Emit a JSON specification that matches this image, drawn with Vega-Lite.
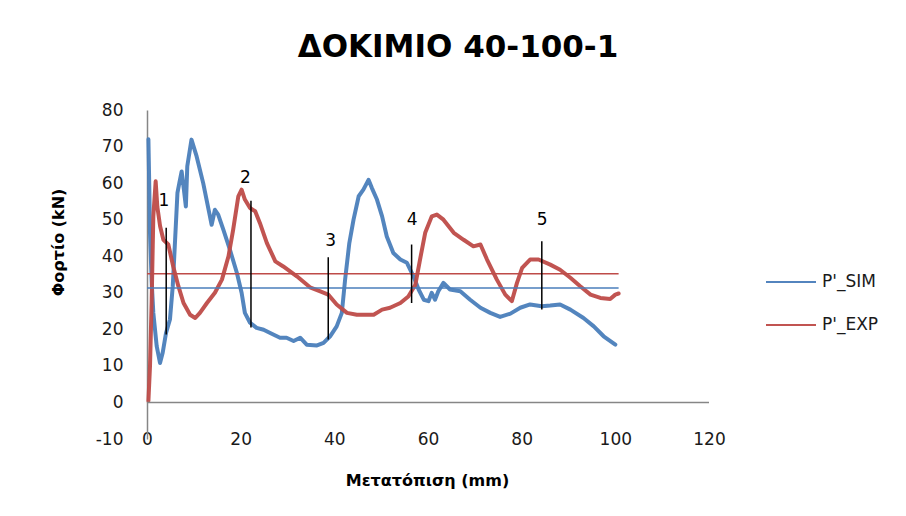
{
  "$schema": "https://vega.github.io/schema/vega-lite/v6.json",
  "autosize": "none",
  "width": 562,
  "height": 329,
  "padding": {"left": 147, "top": 110, "right": 197, "bottom": 77},
  "background": "white",
  "config": {
    "font": "DejaVu Sans",
    "view": {"stroke": null},
    "axis": {"labelFont": "DejaVu Sans", "titleFont": "DejaVu Sans"},
    "legend": {"labelFont": "DejaVu Sans"}
  },
  "title": {
    "text": "ΔΟΚΙΜΙΟ 40-100-1",
    "font": "DejaVu Sans",
    "fontSize": 31,
    "fontWeight": "bold",
    "color": "#000000",
    "anchor": "middle",
    "frame": "group",
    "dx": 30,
    "baseline": "alphabetic",
    "offset": 13
  },
  "datasets": {
    "curves": [
      {"s":"P'_SIM","i":1,"x":0.3,"y":72},{"s":"P'_SIM","i":2,"x":0.5,"y":58},{"s":"P'_SIM","i":3,"x":0.64,"y":46.4},{"s":"P'_SIM","i":4,"x":1.0,"y":33},{"s":"P'_SIM","i":5,"x":1.35,"y":24.5},{"s":"P'_SIM","i":6,"x":2.07,"y":15.4},{"s":"P'_SIM","i":7,"x":2.78,"y":10.8},{"s":"P'_SIM","i":8,"x":3.35,"y":13.6},{"s":"P'_SIM","i":9,"x":4.06,"y":19.0},{"s":"P'_SIM","i":10,"x":4.9,"y":22.7},{"s":"P'_SIM","i":11,"x":5.5,"y":31.8},{"s":"P'_SIM","i":12,"x":6.0,"y":44.5},{"s":"P'_SIM","i":13,"x":6.5,"y":57.3},{"s":"P'_SIM","i":14,"x":6.9,"y":60.0},{"s":"P'_SIM","i":15,"x":7.4,"y":63.2},{"s":"P'_SIM","i":16,"x":7.9,"y":58},{"s":"P'_SIM","i":17,"x":8.3,"y":53.6},{"s":"P'_SIM","i":18,"x":8.6,"y":64.6},{"s":"P'_SIM","i":19,"x":9.5,"y":71.9},{"s":"P'_SIM","i":20,"x":10.6,"y":67.3},{"s":"P'_SIM","i":21,"x":12.0,"y":60.0},{"s":"P'_SIM","i":22,"x":13.3,"y":51.8},{"s":"P'_SIM","i":23,"x":13.8,"y":48.6},{"s":"P'_SIM","i":24,"x":14.5,"y":52.7},{"s":"P'_SIM","i":25,"x":15.2,"y":51.4},{"s":"P'_SIM","i":26,"x":16.3,"y":47.3},{"s":"P'_SIM","i":27,"x":17.7,"y":41.8},{"s":"P'_SIM","i":28,"x":19.2,"y":35.4},{"s":"P'_SIM","i":29,"x":20.2,"y":30.0},{"s":"P'_SIM","i":30,"x":20.9,"y":24.5},{"s":"P'_SIM","i":31,"x":22.0,"y":21.8},{"s":"P'_SIM","i":32,"x":23.4,"y":20.4},{"s":"P'_SIM","i":33,"x":24.9,"y":19.9},{"s":"P'_SIM","i":34,"x":26.3,"y":19.0},{"s":"P'_SIM","i":35,"x":28.4,"y":17.7},{"s":"P'_SIM","i":36,"x":29.8,"y":17.7},{"s":"P'_SIM","i":37,"x":31.3,"y":16.8},{"s":"P'_SIM","i":38,"x":32.7,"y":17.7},{"s":"P'_SIM","i":39,"x":34.1,"y":15.8},{"s":"P'_SIM","i":40,"x":36.3,"y":15.6},{"s":"P'_SIM","i":41,"x":37.7,"y":16.3},{"s":"P'_SIM","i":42,"x":39.1,"y":18.1},{"s":"P'_SIM","i":43,"x":40.5,"y":20.8},{"s":"P'_SIM","i":44,"x":41.6,"y":24.5},{"s":"P'_SIM","i":45,"x":42.3,"y":33.6},{"s":"P'_SIM","i":46,"x":43.2,"y":43.6},{"s":"P'_SIM","i":47,"x":44.1,"y":50.0},{"s":"P'_SIM","i":48,"x":45.2,"y":56.4},{"s":"P'_SIM","i":49,"x":46.2,"y":58.2},{"s":"P'_SIM","i":50,"x":47.3,"y":60.9},{"s":"P'_SIM","i":51,"x":48.0,"y":58.7},{"s":"P'_SIM","i":52,"x":49.1,"y":55.5},{"s":"P'_SIM","i":53,"x":50.2,"y":50.9},{"s":"P'_SIM","i":54,"x":51.2,"y":45.4},{"s":"P'_SIM","i":55,"x":52.6,"y":40.9},{"s":"P'_SIM","i":56,"x":54.1,"y":39.1},{"s":"P'_SIM","i":57,"x":55.5,"y":38.2},{"s":"P'_SIM","i":58,"x":56.9,"y":34.5},{"s":"P'_SIM","i":59,"x":58.0,"y":30.9},{"s":"P'_SIM","i":60,"x":59.1,"y":28.1},{"s":"P'_SIM","i":61,"x":60.1,"y":27.7},{"s":"P'_SIM","i":62,"x":60.8,"y":30.0},{"s":"P'_SIM","i":63,"x":61.5,"y":28.1},{"s":"P'_SIM","i":64,"x":62.2,"y":30.4},{"s":"P'_SIM","i":65,"x":63.3,"y":32.7},{"s":"P'_SIM","i":66,"x":64.7,"y":30.9},{"s":"P'_SIM","i":67,"x":66.9,"y":30.4},{"s":"P'_SIM","i":68,"x":69.0,"y":28.1},{"s":"P'_SIM","i":69,"x":71.2,"y":25.9},{"s":"P'_SIM","i":70,"x":73.3,"y":24.5},{"s":"P'_SIM","i":71,"x":75.4,"y":23.4},{"s":"P'_SIM","i":72,"x":77.6,"y":24.3},{"s":"P'_SIM","i":73,"x":79.7,"y":25.9},{"s":"P'_SIM","i":74,"x":81.8,"y":26.8},{"s":"P'_SIM","i":75,"x":84.3,"y":26.3},{"s":"P'_SIM","i":76,"x":86.1,"y":26.5},{"s":"P'_SIM","i":77,"x":88.2,"y":26.8},{"s":"P'_SIM","i":78,"x":90.4,"y":25.4},{"s":"P'_SIM","i":79,"x":93.2,"y":23.1},{"s":"P'_SIM","i":80,"x":95.4,"y":20.8},{"s":"P'_SIM","i":81,"x":97.5,"y":18.1},{"s":"P'_SIM","i":82,"x":100.0,"y":15.8},
      {"s":"P'_EXP","i":1,"x":0.3,"y":0.4},{"s":"P'_EXP","i":2,"x":0.64,"y":9.9},{"s":"P'_EXP","i":3,"x":1.0,"y":28.1},{"s":"P'_EXP","i":4,"x":1.35,"y":50.9},{"s":"P'_EXP","i":5,"x":1.85,"y":60.5},{"s":"P'_EXP","i":6,"x":2.2,"y":53.6},{"s":"P'_EXP","i":7,"x":2.8,"y":48.2},{"s":"P'_EXP","i":8,"x":3.5,"y":44.5},{"s":"P'_EXP","i":9,"x":4.55,"y":43.2},{"s":"P'_EXP","i":10,"x":5.6,"y":37.2},{"s":"P'_EXP","i":11,"x":6.7,"y":31.8},{"s":"P'_EXP","i":12,"x":7.8,"y":27.2},{"s":"P'_EXP","i":13,"x":9.2,"y":24.0},{"s":"P'_EXP","i":14,"x":10.3,"y":23.1},{"s":"P'_EXP","i":15,"x":11.3,"y":24.5},{"s":"P'_EXP","i":16,"x":12.8,"y":27.2},{"s":"P'_EXP","i":17,"x":14.5,"y":30.0},{"s":"P'_EXP","i":18,"x":16.0,"y":33.6},{"s":"P'_EXP","i":19,"x":17.4,"y":40.0},{"s":"P'_EXP","i":20,"x":18.4,"y":47.3},{"s":"P'_EXP","i":21,"x":19.5,"y":56.4},{"s":"P'_EXP","i":22,"x":20.2,"y":58.2},{"s":"P'_EXP","i":23,"x":20.9,"y":55.5},{"s":"P'_EXP","i":24,"x":22.0,"y":53.2},{"s":"P'_EXP","i":25,"x":23.1,"y":52.3},{"s":"P'_EXP","i":26,"x":24.1,"y":49.1},{"s":"P'_EXP","i":27,"x":25.6,"y":43.6},{"s":"P'_EXP","i":28,"x":27.4,"y":38.6},{"s":"P'_EXP","i":29,"x":29.1,"y":37.2},{"s":"P'_EXP","i":30,"x":32.0,"y":34.5},{"s":"P'_EXP","i":31,"x":34.8,"y":31.5},{"s":"P'_EXP","i":32,"x":37.0,"y":30.4},{"s":"P'_EXP","i":33,"x":38.7,"y":29.5},{"s":"P'_EXP","i":34,"x":40.5,"y":26.8},{"s":"P'_EXP","i":35,"x":42.7,"y":24.5},{"s":"P'_EXP","i":36,"x":44.8,"y":24.0},{"s":"P'_EXP","i":37,"x":48.4,"y":24.0},{"s":"P'_EXP","i":38,"x":50.2,"y":25.4},{"s":"P'_EXP","i":39,"x":51.9,"y":25.9},{"s":"P'_EXP","i":40,"x":54.1,"y":27.2},{"s":"P'_EXP","i":41,"x":55.8,"y":29.0},{"s":"P'_EXP","i":42,"x":57.3,"y":32.2},{"s":"P'_EXP","i":43,"x":58.3,"y":39.1},{"s":"P'_EXP","i":44,"x":59.4,"y":46.4},{"s":"P'_EXP","i":45,"x":60.8,"y":50.9},{"s":"P'_EXP","i":46,"x":61.9,"y":51.4},{"s":"P'_EXP","i":47,"x":63.3,"y":50.0},{"s":"P'_EXP","i":48,"x":65.5,"y":46.4},{"s":"P'_EXP","i":49,"x":67.6,"y":44.5},{"s":"P'_EXP","i":50,"x":69.7,"y":42.7},{"s":"P'_EXP","i":51,"x":71.2,"y":43.2},{"s":"P'_EXP","i":52,"x":72.6,"y":39.1},{"s":"P'_EXP","i":53,"x":74.7,"y":33.6},{"s":"P'_EXP","i":54,"x":76.5,"y":29.5},{"s":"P'_EXP","i":55,"x":77.9,"y":27.7},{"s":"P'_EXP","i":56,"x":79.0,"y":32.7},{"s":"P'_EXP","i":57,"x":80.1,"y":36.8},{"s":"P'_EXP","i":58,"x":81.8,"y":39.1},{"s":"P'_EXP","i":59,"x":83.6,"y":39.1},{"s":"P'_EXP","i":60,"x":86.1,"y":37.7},{"s":"P'_EXP","i":61,"x":88.2,"y":36.3},{"s":"P'_EXP","i":62,"x":90.4,"y":34.1},{"s":"P'_EXP","i":63,"x":92.5,"y":31.8},{"s":"P'_EXP","i":64,"x":94.7,"y":29.5},{"s":"P'_EXP","i":65,"x":96.8,"y":28.6},{"s":"P'_EXP","i":66,"x":98.9,"y":28.3},{"s":"P'_EXP","i":67,"x":100.0,"y":29.5},{"s":"P'_EXP","i":68,"x":100.7,"y":29.8}
    ],
    "means": [
      {"s":"P'_SIM","x":0,"y":31.3},{"s":"P'_SIM","x":100.7,"y":31.3},
      {"s":"P'_EXP","x":0,"y":35.2},{"s":"P'_EXP","x":100.7,"y":35.2}
    ],
    "markers": [
      {"label":"1","x":4.1,"y1":47.8,"y2":18.6,"ly":55.0,"lx":3.6},
      {"label":"2","x":22.2,"y1":55.2,"y2":20.5,"ly":61.5,"lx":21.0},
      {"label":"3","x":38.7,"y1":39.7,"y2":17.2,"ly":44.1,"lx":39.2},
      {"label":"4","x":56.5,"y1":43.2,"y2":27.2,"ly":50.0,"lx":56.6},
      {"label":"5","x":84.3,"y1":44.1,"y2":25.4,"ly":50.0,"lx":84.4}
    ]
  },
  "layer": [
    {
      "data": {"name": "curves"},
      "mark": {"type": "line", "strokeWidth": 4, "strokeCap": "round", "strokeJoin": "round", "opacity": 0.95},
      "encoding": {
        "x": {
          "field": "x", "type": "quantitative",
          "scale": {"domain": [0, 120], "nice": false, "zero": false},
          "axis": {
            "tickCount": 6,
            "format": "d",
            "title": "Μετατόπιση (mm)",
            "titleFontSize": 16, "titleFontWeight": "bold", "titleColor": "#000000",
            "titleX": 280, "titleY": 41, "titleBaseline": "middle", "titleAlign": "center",
            "labelFontSize": 17, "labelColor": "#1a1a1a",
            "domain": false, "ticks": false, "tickSize": 0, "grid": false,
            "labelPadding": 0, "labelBaseline": "middle", "labelFlush": false, "labelOverlap": false
          }
        },
        "y": {
          "field": "y", "type": "quantitative",
          "scale": {"domain": [-10, 80], "nice": false, "zero": false},
          "axis": {
            "tickCount": 10,
            "labelExpr": "datum.value < 0 ? '-' + abs(datum.value) : '' + datum.value",
            "title": "Φορτίο (kN)",
            "titleFontSize": 16, "titleFontWeight": "bold", "titleColor": "#000000",
            "titleX": -89, "titleY": 132, "titleAngle": -90, "titleBaseline": "middle", "titleAlign": "center",
            "labelFontSize": 17, "labelColor": "#1a1a1a",
            "domain": true, "domainColor": "#868686", "domainWidth": 1.5,
            "ticks": false, "tickSize": 0, "grid": false,
            "labelPadding": 24, "labelFlush": false, "labelOverlap": false
          }
        },
        "color": {
          "field": "s", "type": "nominal",
          "scale": {"domain": ["P'_SIM", "P'_EXP"], "range": ["#4A7EBB", "#BE4B48"]},
          "legend": {
            "title": null,
            "orient": "none",
            "legendX": 618,
            "legendY": 146,
            "symbolType": "stroke",
            "symbolSize": 2500,
            "symbolStrokeWidth": 2,
            "labelFontSize": 17,
            "labelColor": "#1a1a1a",
            "labelOffset": 5,
            "rowPadding": 9
          }
        },
        "order": {"field": "i", "type": "quantitative"}
      }
    },
    {
      "data": {"values": [{"z": 0}]},
      "mark": {"type": "rule", "color": "#868686", "strokeWidth": 1.5},
      "encoding": {"y": {"field": "z", "type": "quantitative"}}
    },
    {
      "data": {"name": "means"},
      "mark": {"type": "line", "strokeWidth": 1.5},
      "encoding": {
        "x": {"field": "x", "type": "quantitative"},
        "y": {"field": "y", "type": "quantitative"},
        "color": {"field": "s", "type": "nominal", "scale": {"domain": ["P'_SIM", "P'_EXP"], "range": ["#4F81BD", "#C0504D"]}}
      }
    },
    {
      "data": {"name": "markers"},
      "mark": {"type": "rule", "color": "#000000", "strokeWidth": 1.5},
      "encoding": {
        "x": {"field": "x", "type": "quantitative"},
        "y": {"field": "y1", "type": "quantitative"},
        "y2": {"field": "y2"}
      }
    },
    {
      "data": {"name": "markers"},
      "mark": {"type": "text", "fontSize": 17, "color": "#000000", "baseline": "middle", "align": "center", "font": "DejaVu Sans"},
      "encoding": {
        "x": {"field": "lx", "type": "quantitative"},
        "y": {"field": "ly", "type": "quantitative"},
        "text": {"field": "label"}
      }
    }
  ]
}
